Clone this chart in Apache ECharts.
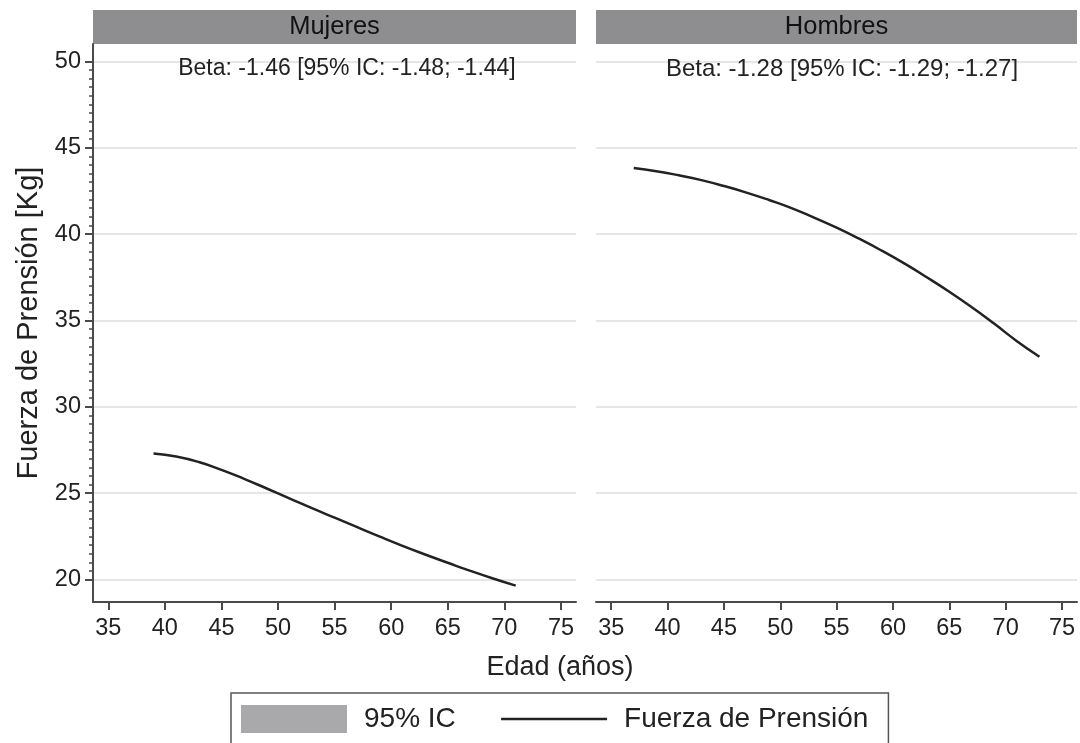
<!DOCTYPE html>
<html>
<head>
<meta charset="utf-8">
<script src="https://cdn.jsdelivr.net/npm/echarts@6/dist/echarts.min.js"></script>
<style>html,body{margin:0;padding:0;background:#fff}#c{width:1080px;height:743px}</style>
</head>
<body>
<div id="c"></div>
<script>
// ---- data ----
const edadMujeres   = [39, 41, 43, 45, 47, 49, 51, 53, 55, 57, 59, 61, 63, 65, 67, 69, 71];
const fuerzaMujeres = [27.30, 27.12, 26.80, 26.35, 25.83, 25.27, 24.70, 24.13, 23.58, 23.03, 22.48, 21.95, 21.45, 20.97, 20.50, 20.06, 19.65];
const edadHombres   = [37, 39, 41, 43, 45, 47, 49, 51, 53, 55, 57, 59, 61, 63, 65, 67, 69, 71, 73];
const fuerzaHombres = [43.82, 43.64, 43.40, 43.12, 42.78, 42.40, 41.97, 41.50, 40.95, 40.37, 39.73, 39.04, 38.30, 37.50, 36.66, 35.76, 34.80, 33.80, 32.90];
const xTicks = [35, 40, 45, 50, 55, 60, 65, 70, 75];
const yTicks = [20, 25, 30, 35, 40, 45, 50];
const panelTitles = ['Mujeres', 'Hombres'];
const betaTexts = ['Beta: -1.46 [95% IC: -1.48; -1.44]', 'Beta: -1.28 [95% IC: -1.29; -1.27]'];
const seriesNames = ['95% IC', 'Fuerza de Prensión'];
const xAxisTitle = 'Edad (años)';
const yAxisTitle = 'Fuerza de Prensión [Kg]';

// minor ticks every 0.5 between major y ticks
const yMinorTicks = [];
for (let v = yTicks[0]; v <= yTicks[yTicks.length - 1] + 1e-9; v += 0.5) {
  if (yTicks.indexOf(v) < 0) yMinorTicks.push(v);
}

const FONT = "'Liberation Sans', Arial, Helvetica, sans-serif";
const TXT = '#222';
const AX = '#4a4a4a';
const GRIDC = '#dedede';
const X_MIN = 33.65, X_MAX = 76.33, Y_MIN = 18.7, Y_MAX = 51;

const pairs = (xs, ys) => xs.map((x, i) => [x, ys[i]]);

const grids = [
  {left: 93, right: 504, top: 44, bottom: 141},
  {left: 596, right: 3, top: 44, bottom: 141}
];

function xAxisFor(i) {
  return {
    type: 'value', gridIndex: i, min: X_MIN, max: X_MAX,
    axisLine: {show: true, lineStyle: {color: AX, width: 2}},
    axisTick: {show: true, customValues: xTicks, length: 8, lineStyle: {color: AX, width: 2}},
    axisLabel: {show: true, customValues: xTicks, fontSize: 23.5, color: TXT, fontFamily: FONT, margin: 15},
    splitLine: {show: false}
  };
}

const option = {
  animation: false,
  backgroundColor: '#ffffff',
  grid: grids,
  xAxis: [xAxisFor(0), xAxisFor(1)],
  yAxis: [
    {
      type: 'value', gridIndex: 0, min: Y_MIN, max: Y_MAX, position: 'left',
      name: yAxisTitle, nameLocation: 'middle', nameGap: 50, nameRotate: 90,
      nameTextStyle: {fontSize: 29, color: TXT, fontFamily: FONT},
      axisLine: {show: true, lineStyle: {color: AX, width: 2}},
      axisTick: {show: true, customValues: yTicks, length: 8, lineStyle: {color: AX, width: 2}},
      axisLabel: {show: true, customValues: yTicks, fontSize: 23.5, color: TXT, fontFamily: FONT, margin: 12},
      splitLine: {show: true, lineStyle: {color: GRIDC, width: 1.5}}
    },
    {
      type: 'value', gridIndex: 0, min: Y_MIN, max: Y_MAX, position: 'left', offset: 0,
      axisLine: {show: false},
      axisTick: {show: true, customValues: yMinorTicks, length: 4, lineStyle: {color: AX, width: 1.5}},
      axisLabel: {show: false},
      splitLine: {show: false}
    },
    {
      type: 'value', gridIndex: 1, min: Y_MIN, max: Y_MAX, position: 'left',
      axisLine: {show: false},
      axisTick: {show: false, customValues: yTicks},
      axisLabel: {show: false, customValues: yTicks},
      splitLine: {show: true, lineStyle: {color: GRIDC, width: 1.5}}
    }
  ],
  title: [
    {text: betaTexts[0], left: 347, top: 57, textAlign: 'center', padding: 0,
     textStyle: {fontSize: 23, fontWeight: 'normal', color: TXT, fontFamily: FONT}},
    {text: betaTexts[1], left: 842, top: 57, textAlign: 'center', padding: 0,
     textStyle: {fontSize: 24, fontWeight: 'normal', color: TXT, fontFamily: FONT}},
    {text: xAxisTitle, left: 560, top: 654, textAlign: 'center', padding: 0,
     textStyle: {fontSize: 27, fontWeight: 'normal', color: TXT, fontFamily: FONT}}
  ],
  legend: {
    left: 231, top: 693, orient: 'horizontal',
    padding: [12, 20, 30, 10],
    borderColor: '#555', borderWidth: 1.5,
    itemWidth: 106, itemHeight: 28, itemGap: 44,
    textStyle: {fontSize: 28, color: TXT, fontFamily: FONT},
    data: [
      {name: seriesNames[0], icon: 'rect', itemStyle: {color: '#a9a9ab', borderWidth: 0},
       textStyle: {padding: [0, 0, 0, 12]}},
      {name: seriesNames[1], itemStyle: {color: 'rgba(0,0,0,0)', borderWidth: 0, opacity: 0},
       lineStyle: {color: '#222', width: 2.5},
       textStyle: {padding: [0, 0, 0, 12]}}
    ]
  },
  graphic: [
    {type: 'rect', shape: {x: 93, y: 10, width: 483, height: 34}, style: {fill: '#8e8e90'}},
    {type: 'text', x: 334.5, y: 27, style: {text: panelTitles[0], fontSize: 25.5, fontFamily: FONT, fill: '#111', align: 'center', verticalAlign: 'middle'}},
    {type: 'rect', shape: {x: 596, y: 10, width: 481, height: 34}, style: {fill: '#8e8e90'}},
    {type: 'text', x: 836.5, y: 27, style: {text: panelTitles[1], fontSize: 25.5, fontFamily: FONT, fill: '#111', align: 'center', verticalAlign: 'middle'}}
  ],
  series: [
    {name: seriesNames[0], type: 'line', xAxisIndex: 0, yAxisIndex: 0, data: [],
     itemStyle: {color: '#a9a9ab'}, areaStyle: {color: '#a9a9ab'}, symbol: 'none'},
    {name: seriesNames[1], type: 'line', xAxisIndex: 0, yAxisIndex: 0,
     data: pairs(edadMujeres, fuerzaMujeres), smooth: true, symbol: 'none', showSymbol: false,
     itemStyle: {color: '#222'}, lineStyle: {color: '#222', width: 2.5}},
    {name: seriesNames[1], type: 'line', xAxisIndex: 1, yAxisIndex: 2,
     data: pairs(edadHombres, fuerzaHombres), smooth: true, symbol: 'none', showSymbol: false,
     itemStyle: {color: '#222'}, lineStyle: {color: '#222', width: 2.5}}
  ]
};

const chart = echarts.init(document.getElementById('c'), null, {renderer: 'canvas'});
chart.setOption(option);
</script>
</body>
</html>
